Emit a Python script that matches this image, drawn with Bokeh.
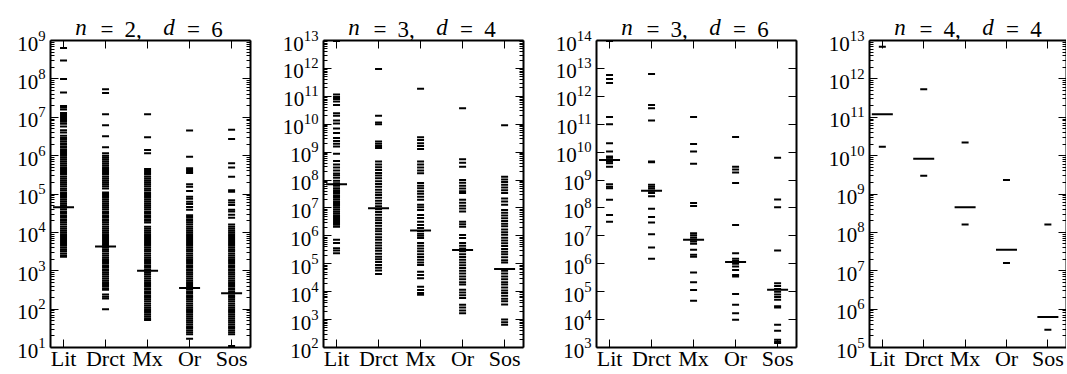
from bokeh.plotting import figure
from bokeh.models import (Range1d, FixedTicker, LogAxis, LinearAxis,
                          ColumnDataSource, LogTickFormatter)
from bokeh.layouts import row
from bokeh.embed import file_html
from bokeh.resources import INLINE

FONT = "Liberation Serif"

categories = ["Lit", "Drct", "Mx", "Or", "Sos"]

# ---------------- panel 1: n=2, d=6 ----------------
p1_lit = [2.3e3, 2.5e3, 2.8e3, 3.2e3, 3.5e3, 4.0e3, 4.5e3, 5.0e3, 5.6e3, 6.3e3, 7.1e3, 8.0e3, 8.9e3,
          1.0e4, 1.1e4, 1.25e4, 1.4e4, 1.6e4, 1.8e4, 2.0e4, 2.2e4, 2.5e4, 2.8e4, 3.2e4, 3.5e4, 4.0e4,
          4.5e4, 5.0e4, 5.6e4, 6.3e4, 7.1e4, 8.0e4, 8.9e4,
          1.0e5, 1.1e5, 1.25e5, 1.4e5, 1.6e5, 1.8e5, 2.0e5, 2.2e5, 2.5e5, 2.8e5, 3.2e5, 3.5e5, 4.0e5,
          4.5e5, 5.0e5, 5.6e5, 6.3e5, 7.1e5, 8.0e5, 8.9e5,
          1.0e6, 1.1e6, 1.25e6, 1.4e6, 1.6e6, 1.75e6, 2.0e6, 2.3e6, 2.6e6, 2.9e6, 3.3e6, 4.0e6, 4.6e6,
          5.7e6, 6.8e6, 7.6e6, 8.5e6, 9.5e6, 1.05e7, 1.15e7, 1.3e7, 1.6e7, 1.8e7, 1.95e7,
          4.4e7, 1.0e8, 3.0e8, 6.4e8]
p1_drct = [1.0e2, 1.9e2, 2.1e2, 2.4e2, 3.2e2, 3.5e2, 4.0e2, 4.5e2, 5.0e2, 5.6e2, 6.3e2, 7.1e2, 8.0e2, 8.9e2,
           1.0e3, 1.1e3, 1.25e3, 1.4e3, 1.6e3, 1.8e3, 2.0e3, 2.2e3, 2.5e3, 2.8e3, 3.2e3, 3.5e3, 4.0e3,
           4.5e3, 5.0e3, 5.6e3, 6.3e3, 7.1e3, 8.0e3, 8.9e3,
           1.0e4, 1.1e4, 1.25e4, 1.4e4, 1.6e4, 1.8e4, 2.0e4, 2.2e4, 2.5e4, 2.8e4, 3.2e4, 3.5e4, 4.0e4,
           4.5e4, 5.0e4, 5.6e4, 6.3e4, 7.1e4, 8.0e4, 8.9e4,
           1.0e5, 1.1e5, 1.4e5, 1.6e5, 1.8e5, 2.0e5, 2.2e5, 2.5e5, 2.8e5, 3.2e5, 3.5e5, 4.0e5,
           4.5e5, 5.0e5, 5.6e5, 6.3e5, 7.1e5, 8.0e5, 8.9e5, 1.0e6, 1.15e6,
           1.65e6, 3.2e6, 6.2e6, 1.2e7, 4.3e7, 5.4e7]
p1_mx = [5.2e1, 5.6e1, 6.3e1, 7.1e1, 8.0e1, 8.9e1,
         1.0e2, 1.1e2, 1.25e2, 1.4e2, 1.6e2, 1.8e2, 2.0e2, 2.2e2, 2.5e2, 2.8e2, 3.2e2, 3.5e2, 4.0e2,
         4.5e2, 5.0e2, 5.6e2, 6.3e2, 7.1e2, 8.0e2, 8.9e2,
         1.0e3, 1.1e3, 1.25e3, 1.4e3, 1.6e3, 1.8e3, 2.0e3, 2.2e3, 2.5e3, 2.8e3, 3.2e3, 3.5e3, 4.0e3,
         4.5e3, 5.0e3, 5.6e3, 6.3e3, 7.1e3, 8.0e3, 8.9e3,
         1.0e4, 1.1e4, 1.25e4, 1.4e4, 1.8e4, 2.0e4, 2.2e4, 2.5e4, 2.8e4, 3.2e4, 3.5e4, 4.0e4,
         4.5e4, 5.0e4, 5.6e4, 6.3e4, 7.1e4, 8.0e4, 8.9e4,
         1.0e5, 1.1e5, 1.25e5, 1.4e5, 1.6e5, 1.8e5, 2.0e5, 2.2e5, 2.5e5, 2.8e5, 3.2e5, 3.5e5, 4.0e5, 4.5e5,
         1.15e6, 1.4e6, 3.0e6, 1.2e7]
p1_or = [1.7e1, 2.2e1, 2.5e1, 2.8e1, 3.2e1, 3.5e1, 4.0e1, 4.5e1, 5.0e1, 5.6e1, 6.3e1, 7.1e1, 8.0e1, 8.9e1,
         1.0e2, 1.1e2, 1.25e2, 1.4e2, 1.6e2, 1.8e2, 2.0e2, 2.2e2, 2.5e2, 2.8e2, 3.2e2, 3.5e2, 4.0e2,
         4.5e2, 5.0e2, 5.6e2, 6.3e2, 7.1e2, 8.0e2, 8.9e2,
         1.0e3, 1.1e3, 1.25e3, 1.4e3, 1.6e3, 1.8e3, 2.0e3, 2.2e3, 2.5e3, 2.8e3, 3.2e3, 3.5e3, 4.0e3,
         4.5e3, 5.0e3, 5.6e3, 6.3e3, 7.1e3, 8.0e3, 8.9e3,
         1.0e4, 1.1e4, 1.25e4, 1.4e4, 1.6e4, 1.8e4, 2.0e4, 2.2e4, 2.5e4, 2.8e4,
         3.9e4, 4.6e4, 5.5e4, 6.3e4, 7.5e4, 8.5e4, 1.2e5, 1.55e5, 1.8e5,
         3.5e5, 3.8e5, 4.2e5, 4.7e5, 9.3e5, 4.5e6]
p1_sos = [1.1e1, 2.2e1, 2.5e1, 2.8e1, 3.2e1, 3.5e1, 4.0e1, 4.5e1, 5.0e1, 5.6e1, 6.3e1, 7.1e1, 8.0e1, 8.9e1,
          1.0e2, 1.1e2, 1.25e2, 1.4e2, 1.6e2, 1.8e2, 2.0e2, 2.2e2, 2.5e2, 2.8e2, 3.2e2, 3.5e2, 4.0e2,
          4.5e2, 5.0e2, 5.6e2, 6.3e2, 7.1e2, 8.0e2, 8.9e2,
          1.0e3, 1.1e3, 1.25e3, 1.4e3, 1.6e3, 1.8e3, 2.0e3, 2.2e3, 2.5e3, 2.8e3, 3.2e3, 3.5e3, 4.0e3,
          4.5e3, 5.0e3, 5.6e3, 6.3e3, 7.1e3, 8.0e3, 8.9e3,
          1.0e4, 1.1e4, 1.25e4, 1.4e4, 1.6e4,
          2.4e4, 2.9e4, 3.5e4, 3.9e4, 5.2e4, 6.0e4, 6.9e4, 1.15e5, 1.26e5,
          2.8e5, 4.9e5, 6.3e5, 2.7e6, 4.7e6]
p1_median = [4.5e4, 4.3e3, 1.0e3, 3.55e2, 2.6e2]

# ---------------- panel 2: n=3, d=4 ----------------
p2_lit = [2.4e5, 3.0e5, 3.6e5, 5.5e5, 7.2e5,
          2.1e6, 2.5e6, 2.9e6, 3.4e6, 4.0e6, 4.7e6, 5.5e6, 6.4e6, 7.5e6, 8.8e6, 1.03e7, 1.2e7, 1.4e7,
          1.65e7, 1.95e7, 2.3e7, 2.7e7, 3.2e7, 3.7e7, 4.3e7, 5.1e7, 6.2e7, 7.6e7, 9.5e7,
          1.2e8, 1.5e8, 1.7e8, 2.2e8, 2.8e8, 3.6e8, 4.8e8, 8.7e8, 1.6e9, 2.0e9, 2.5e9, 3.2e9,
          4.8e9, 7.1e9, 1.07e10, 1.35e10, 2.0e10, 2.45e10, 4.9e10, 6.5e10, 8.0e10, 9.5e10, 1.17e11,
          9.5e12]
p2_drct = [4.3e4, 5.7e4, 7.2e4, 9.0e4, 1.15e5, 1.45e5, 1.8e5, 2.3e5, 2.9e5, 3.6e5, 4.5e5, 5.7e5,
           7.2e5, 9.0e5, 1.15e6, 1.45e6, 1.8e6, 2.3e6, 2.9e6, 3.6e6, 4.5e6, 5.7e6, 7.2e6, 9.0e6,
           1.15e7, 1.45e7, 1.8e7, 2.3e7, 2.9e7, 3.6e7, 4.5e7, 5.7e7, 7.2e7, 9.0e7, 1.15e8, 1.45e8,
           1.8e8, 2.3e8, 2.9e8, 3.6e8, 4.6e8, 1.4e9, 1.65e9, 2.0e9, 2.4e9, 1.0e10, 1.15e10, 2.0e10,
           9.5e11]
p2_mx = [7.8e3, 9.0e3, 1.15e4, 1.5e4, 3.0e4, 4.0e4, 5.2e4, 9.1e4, 1.1e5, 1.4e5, 1.75e5, 2.2e5,
         2.8e5, 3.5e5, 4.4e5, 5.5e5, 8.3e5, 1.0e6, 1.2e6, 1.5e6, 1.9e6, 2.45e6, 3.2e6, 4.4e6, 5.6e6,
         8.5e6, 1.05e7, 1.3e7, 1.95e7, 2.5e7, 3.2e7, 4.0e7, 5.1e7, 6.3e7, 7.8e7, 1.75e8, 2.2e8,
         2.8e8, 3.6e8, 4.6e8, 1.3e9, 1.65e9, 2.1e9, 2.7e9, 3.4e9, 1.86e11]
p2_or = [1.7e3, 2.1e3, 2.7e3, 3.4e3, 5.9e3, 7.4e3, 9.3e3, 1.17e4, 1.8e4, 2.2e4, 2.8e4, 3.5e4,
         4.5e4, 5.6e4, 7.1e4, 8.9e4, 1.1e5, 1.4e5, 1.75e5, 2.2e5, 2.8e5, 3.5e5, 4.4e5, 5.5e5, 8.3e5,
         1.07e6, 2.1e6, 2.6e6, 3.2e6, 7.4e6, 9.5e6, 1.2e7, 1.55e7, 1.95e7, 3.4e7, 4.0e7, 5.0e7,
         6.3e7, 8.0e7, 1.0e8, 3.0e8, 4.2e8, 5.6e8, 3.7e10]
p2_sos = [6.5e2, 8.0e2, 1.0e3, 3.5e3, 4.5e3, 5.6e3, 7.1e3, 9.0e3, 1.1e4, 1.4e4, 1.8e4, 2.2e4,
          2.8e4, 3.5e4, 4.5e4, 5.6e4, 1.1e5, 1.35e5, 1.7e5, 2.2e5, 2.7e5, 3.4e5, 4.3e5, 5.4e5,
          6.8e5, 8.5e5, 1.1e6, 1.35e6, 1.7e6, 2.2e6, 2.7e6, 3.4e6, 4.3e6, 5.4e6, 6.8e6, 8.5e6,
          1.3e7, 1.7e7, 2.2e7, 3.4e7, 4.3e7, 5.4e7, 6.8e7, 8.5e7, 1.05e8, 1.3e8, 9.1e9]
p2_median = [7.1e7, 9.8e6, 1.55e6, 3.1e5, 6.5e4]

# ---------------- panel 3: n=3, d=6 ----------------
p3_lit = [3.2e7, 5.6e7, 1.95e8, 5.1e8, 5.8e8, 7.1e8, 3.0e9, 4.0e9, 4.5e9, 5.0e9, 5.5e9, 6.3e9,
          7.0e9, 1.05e10, 2.1e10, 1.0e11, 1.8e11, 3.0e12, 4.2e12, 5.8e12, 9.5e13]
p3_drct = [1.5e6, 3.8e6, 1.15e7, 3.0e7, 4.7e7, 9.3e7, 2.6e8, 3.4e8, 4.1e8, 5.0e8, 5.8e8, 6.8e8,
           4.3e9, 4.6e9, 1.35e11, 3.7e11, 4.9e11, 6.3e12]
p3_mx = [4.7e4, 1.15e5, 2.2e5, 4.9e5, 1.8e6, 2.1e6, 3.2e6, 5.2e6, 6.3e6, 7.4e6, 8.7e6, 1.05e7,
         1.25e7, 1.17e8, 1.5e8, 3.8e9, 1.05e10, 1.95e10, 1.8e11]
p3_or = [9.8e3, 1.7e4, 3.4e4, 8.3e4, 3.5e5, 4.0e5, 6.0e5, 8.0e5, 1.0e6, 1.25e6, 1.5e6, 2.4e6,
         2.45e7, 7.8e8, 1.85e9, 2.4e9, 3.0e9, 3.5e10]
p3_sos = [1.45e3, 1.6e3, 1.9e3, 4.0e3, 6.5e3, 2.7e4, 3.0e4, 5.1e4, 6.5e4, 8.0e4, 1.0e5, 1.25e5,
          1.6e5, 2.0e5, 3.0e6, 1.07e8, 2.0e8, 6.3e9]
p3_median = [5.2e9, 4.1e8, 7.2e6, 1.15e6, 1.17e5]

# ---------------- panel 4: n=4, d=4 ----------------
p4_lit = [1.7e10, 6.9e12]
p4_drct = [3.0e9, 5.4e11]
p4_mx = [1.6e8, 2.2e10]
p4_or = [1.6e7, 2.3e9]
p4_sos = [2.9e5, 1.6e8]
p4_median = [1.2e11, 8.3e9, 4.5e8, 3.5e7, 6.2e5]

panels = [
    dict(n="2", d="6", decades=(1, 9), series=[p1_lit, p1_drct, p1_mx, p1_or, p1_sos],
         median=p1_median, minor=True),
    dict(n="3", d="4", decades=(2, 13), series=[p2_lit, p2_drct, p2_mx, p2_or, p2_sos],
         median=p2_median, minor=True),
    dict(n="3", d="6", decades=(3, 14), series=[p3_lit, p3_drct, p3_mx, p3_or, p3_sos],
         median=p3_median, minor=False),
    dict(n="4", d="4", decades=(5, 13), series=[p4_lit, p4_drct, p4_mx, p4_or, p4_sos],
         median=p4_median, minor=True),
]

X_LO, X_HI = -0.31, 4.45
LEFTS = [50, 65, 65, 65]
FRAMES_W = [200, 200, 200, 197]
RIGHTS = [8, 8, 8, 0]
H = 373
TOP = 40
FRAME_H = 307
BOTTOM = H - TOP - FRAME_H
TITLE_STANDOFF = 1
TITLE_BOX = 30   # approx. height Bokeh reserves for a 23px label row


def style_axis(ax):
    ax.axis_line_width = 2
    ax.axis_line_color = "black"
    ax.major_tick_in = 8
    ax.major_tick_out = 0
    ax.minor_tick_in = 4
    ax.minor_tick_out = 0
    ax.major_tick_line_width = 1
    ax.minor_tick_line_width = 1
    ax.major_tick_line_color = "black"
    ax.minor_tick_line_color = "black"


def title_axis(pieces, style, standoff):
    ticks = [pos for _, pos in pieces]
    ax = LinearAxis(x_range_name="px", ticker=FixedTicker(ticks=ticks),
                    major_label_overrides={pos: txt for txt, pos in pieces},
                    major_label_text_font=FONT, major_label_text_font_size="23px",
                    major_label_text_font_style=style, major_label_text_color="black",
                    major_label_standoff=standoff, axis_line_color=None,
                    major_tick_line_color=None, minor_tick_line_color=None,
                    major_tick_in=0, major_tick_out=0)
    return ax


def build(i, cfg):
    lo, hi = cfg["decades"]
    fw = FRAMES_W[i]
    w = LEFTS[i] + fw + RIGHTS[i]
    p = figure(width=w, height=H, x_range=Range1d(X_LO, X_HI),
               y_range=Range1d(10.0 ** lo, 10.0 ** hi), y_axis_type="log",
               output_backend="svg", toolbar_location=None,
               min_border_left=LEFTS[i], min_border_right=RIGHTS[i],
               min_border_top=TOP, min_border_bottom=BOTTOM,
               outline_line_color=None, background_fill_color="white",
               border_fill_color="white", margin=0)
    p.extra_x_ranges = {"px": Range1d(0, fw)}
    p.xgrid.visible = False
    p.ygrid.visible = False

    major = [10.0 ** k for k in range(lo, hi + 1)]
    minor = [m * 10.0 ** k for k in range(lo, hi) for m in range(2, 10)] if cfg["minor"] else []
    yticker = FixedTicker(ticks=major, minor_ticks=minor)
    xticker = FixedTicker(ticks=list(range(len(categories))))

    yl = p.yaxis[0]
    yl.ticker = yticker
    style_axis(yl)
    yl.major_label_text_font = FONT
    yl.major_label_text_font_size = "21px"
    yl.major_label_text_color = "black"
    yl.major_label_standoff = 5

    xb = p.xaxis[0]
    xb.ticker = xticker
    style_axis(xb)
    xb.major_label_overrides = {k: c for k, c in enumerate(categories)}
    xb.major_label_text_font = FONT
    xb.major_label_text_font_size = "22px"
    xb.major_label_text_color = "black"
    xb.major_label_standoff = -2

    yr = LogAxis(ticker=yticker, formatter=LogTickFormatter(),
                 major_label_text_color=None, major_label_text_font_size="1px",
                 major_label_standoff=0)
    style_axis(yr)
    p.add_layout(yr, "right")

    xt = LinearAxis(ticker=FixedTicker(ticks=list(range(len(categories)))),
                    major_label_text_color=None, major_label_text_font_size="1px",
                    major_label_standoff=0)
    style_axis(xt)
    p.add_layout(xt, "above")

    # panel title "n = a,  d = b": italic variables on one label row, upright parts on
    # a second row pulled down onto the same baseline
    italic_pieces = [("n", 30.5), ("d", 118.5)]
    upright_pieces = [("=", 56.6), (cfg["n"] + ",", 82.5), ("=", 143.0), (cfg["d"], 166.5)]
    p.add_layout(title_axis(italic_pieces, "italic", TITLE_STANDOFF), "above")
    p.add_layout(title_axis(upright_pieces, "normal", -TITLE_BOX), "above")

    if not cfg["minor"]:
        for ax in (yl, yr):
            ax.minor_tick_line_color = None

    xs, ys = [], []
    for k, vals in enumerate(cfg["series"]):
        xs += [k] * len(vals)
        ys += list(vals)
    src = ColumnDataSource(dict(x=xs, y=ys))
    p.scatter("x", "y", source=src, marker="dash", size=7, line_width=2, line_color="black")

    msrc = ColumnDataSource(dict(x=list(range(len(categories))), y=cfg["median"]))
    p.scatter("x", "y", source=msrc, marker="dash", size=21, line_width=2, line_color="black")
    return p


figs = [build(i, cfg) for i, cfg in enumerate(panels)]
layout = row(*figs, spacing=0)

open("out.html", "w").write(file_html(layout, INLINE))
